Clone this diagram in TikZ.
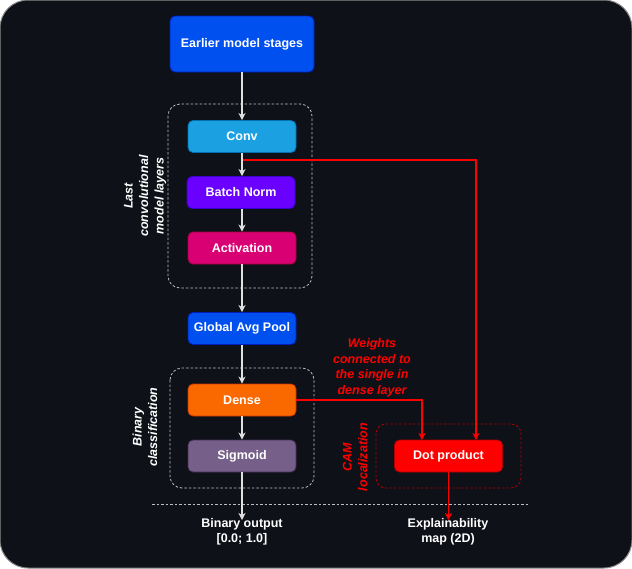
\documentclass[tikz,border=0pt]{standalone}
\usepackage{fontspec}
\setmainfont{Liberation Sans}
\usetikzlibrary{arrows.meta,calc}
\definecolor{bgc}{HTML}{0E1117}
\definecolor{cblue}{HTML}{0050EF}\definecolor{sblue}{HTML}{001DBC}
\definecolor{ccyan}{HTML}{1BA1E2}\definecolor{scyan}{HTML}{006EAF}
\definecolor{cviol}{HTML}{6A00FF}\definecolor{sviol}{HTML}{3700CC}
\definecolor{cmag}{HTML}{D80073}\definecolor{smag}{HTML}{A50040}
\definecolor{corg}{HTML}{FA6800}\definecolor{sorg}{HTML}{C73500}
\definecolor{cmauve}{HTML}{76608A}\definecolor{smauve}{HTML}{432D57}
\definecolor{cred}{HTML}{FF0000}\definecolor{sred}{HTML}{B20000}
\definecolor{grpgray}{HTML}{BFBFBF}
\definecolor{bordgray}{HTML}{8A8A8A}
\tikzset{
  x=1pt,y=-1pt,
  every node/.style={font=\fontsize{12.5}{15.5}\selectfont\bfseries, text=white},
  layer/.style={draw=#1, line width=0.8pt, rounded corners=5pt, minimum width=108pt, minimum height=32pt, inner sep=0pt},
  grp/.style={draw=grpgray, line width=0.8pt, dash pattern=on 2.5pt off 2pt, rounded corners=12pt},
  redgrp/.style={draw=sred, line width=0.8pt, dash pattern=on 2.5pt off 2pt, rounded corners=10pt},
  wline/.style={draw=white!88!black, line width=1.3pt, -{Stealth[length=7pt,width=7pt,inset=2pt]}},
  rline/.style={draw=red, line width=1.3pt, -{Stealth[length=7pt,width=7pt,inset=2pt]}},
  sidelabel/.style={rotate=90, align=center, font=\fontsize{12.5}{15.5}\selectfont\bfseries\itshape},
}
\begin{document}
\begin{tikzpicture}
\useasboundingbox (0,0) rectangle (632,568);
\fill[white] (0,0) rectangle (632,568);
\draw[fill=bgc, draw=bordgray, line width=1pt, rounded corners=28pt] (0,0) rectangle (632,568);

% groups
\draw[grp] (168,104) rectangle (312,288);
\draw[grp] (170,368) rectangle (314,488);
\draw[redgrp] (376,424) rectangle (521,488);
\coordinate (hl1) at (152,504);
\coordinate (hl2) at (528,504);
\draw[draw=grpgray, line width=0.8pt, dash pattern=on 2.5pt off 2pt] (hl1) -- (hl2);

% nodes
\node[layer=sblue, fill=cblue, minimum width=144pt, minimum height=56pt] (ems) at (242,44) {Earlier model stages};
\node[layer=scyan, fill=ccyan] (conv) at (242,136.5) {Conv};
\node[layer=sviol, fill=cviol] (bn) at (241,192.5) {Batch Norm};
\node[layer=smag, fill=cmag] (act) at (242,248) {Activation};
\node[layer=sblue, fill=cblue] (gap) at (242,328.5) {Global Avg Pool};
\node[layer=sorg, fill=corg] (dense) at (242,400) {Dense};
\node[layer=smauve, fill=cmauve] (sig) at (242,456) {Sigmoid};
\node[layer=sred, fill=cred] (dot) at (448.5,456) {Dot product};

% labels
\node[sidelabel] (lbl1) at (145,196) {Last\\convolutional\\model layers};
\node[sidelabel] (lbl2) at (145,427) {Binary\\classification};
\node[sidelabel, text=red] (lbl3) at (355,457) {CAM\\localization};
\node[align=center, text=red, font=\fontsize{12.5}{15.5}\selectfont\bfseries\itshape] (wlbl) at (372,368) {Weights\\connected to\\the single in\\dense layer};
\node[align=center] (out1) at (242,532) {Binary output\\{}[0.0; 1.0]};
\node[align=center] (out2) at (448,532) {Explainability\\map (2D)};

\coordinate (oend1) at (242,520);
\coordinate (oend2) at (448.5,520);
\coordinate (convturn) at (242.5,160);
\coordinate (dotin1) at (422,440);
\coordinate (dotin2) at (476,440);

% red connectors (behind white)
\draw[rline] ($(conv.south)+(0.8,0)$) |- (convturn) -| (dotin2);
\draw[rline] (dense.east) -| (dotin1);
\draw[rline] (dot.south) -- (oend2);

% white connectors
\draw[wline] (ems.south) -- (conv.north);
\draw[wline] (conv.south) -- (conv.south |- bn.north);
\draw[wline] (bn.south -| act.north) -- (act.north);
\draw[wline] (act.south) -- (gap.north);
\draw[wline] (gap.south) -- (dense.north);
\draw[wline] (dense.south) -- (sig.north);
\draw[wline] (sig.south) -- (oend1);
\end{tikzpicture}
\end{document}
